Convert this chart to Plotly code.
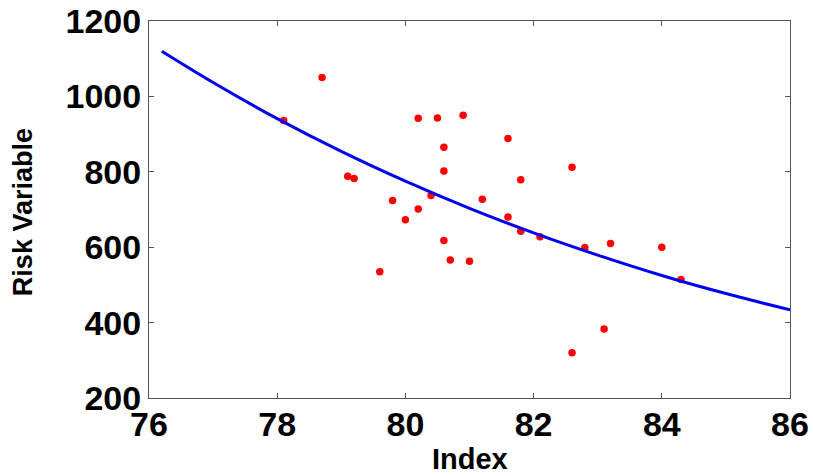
import plotly.graph_objects as go

# Scatter data
index_vals = [78.1, 78.7, 79.1, 79.2, 79.6, 79.8, 80.0, 80.2, 80.2, 80.4,
              80.5, 80.6, 80.6, 80.6, 80.7, 80.9, 81.0, 81.2, 81.6, 81.6,
              81.8, 81.8, 82.1, 82.6, 82.6, 82.8, 83.1, 83.2, 84.0, 84.3]
risk_vals = [936, 1050, 788, 782, 535, 724, 673, 701, 942, 737,
             943, 865, 802, 618, 566, 950, 563, 727, 888, 680,
             779, 642, 628, 812, 320, 599, 383, 610, 600, 514]

# Fitted curve
curve_x = [76.2, 77, 78, 79, 80, 81, 82, 83, 84, 85, 86]
curve_y = [1120, 1037, 941, 854, 775, 703, 638, 579, 525, 477, 434]

x_ticks = [76, 78, 80, 82, 84, 86]
y_ticks = [200, 400, 600, 800, 1000, 1200]

FONT = "Liberation Sans, Arial, sans-serif"

fig = go.Figure()
fig.add_trace(go.Scatter(x=index_vals, y=risk_vals, mode="markers",
                         marker=dict(color="#ff0000", size=7.5, line=dict(width=0)),
                         showlegend=False))
fig.add_trace(go.Scatter(x=curve_x, y=curve_y, mode="lines",
                         line=dict(color="#0000ee", width=3, shape="spline"),
                         showlegend=False))

axis_common = dict(showgrid=False, zeroline=False, showline=True, linecolor="#555555",
                   linewidth=1, mirror="ticks", ticks="inside", ticklen=5,
                   tickcolor="#555555", tickwidth=1, automargin=False,
                   ticklabeloverflow="allow",
                   tickfont=dict(family=FONT, size=34, color="black", weight="bold"))

fig.update_xaxes(range=[76, 86], tickvals=x_ticks, ticktext=[str(v) for v in x_ticks],
                 ticklabelstandoff=-4, **axis_common)
fig.update_yaxes(range=[200, 1200], tickvals=y_ticks, ticktext=[str(v) for v in y_ticks],
                 **axis_common)

# Axis titles as annotations for exact placement
fig.add_annotation(text="Index", xref="paper", yref="paper", x=0.5, y=0,
                   xanchor="center", yanchor="middle", yshift=-61, showarrow=False,
                   font=dict(family=FONT, size=29, color="black", weight="bold"))
fig.add_annotation(text="Risk Variable", xref="paper", yref="paper", x=0, y=0.493,
                   xanchor="center", yanchor="middle", xshift=-126, textangle=-90,
                   showarrow=False,
                   font=dict(family=FONT, size=27, color="black", weight="bold"))

fig.update_layout(width=813, height=476, plot_bgcolor="white", paper_bgcolor="white",
                  margin=dict(l=149, r=23, t=21, b=78))

fig.write_html("out.html", config={"displayModeBar": False},
               post_script="document.body.style.margin='0px';")
